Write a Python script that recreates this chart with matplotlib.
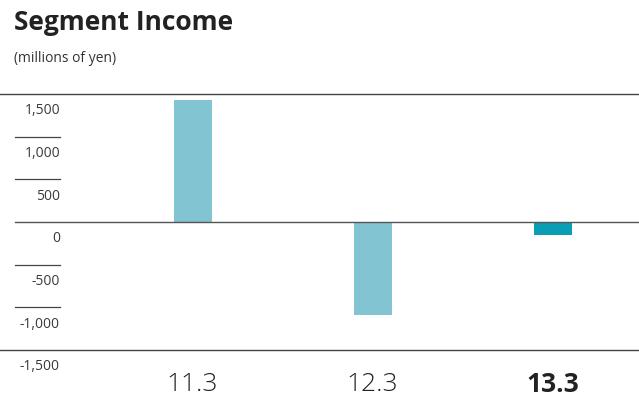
import matplotlib
matplotlib.use("Agg")
import matplotlib.pyplot as plt

plt.rcParams['font.family'] = ['Open Sans', 'DejaVu Sans']

# Data
categories = ["11.3", "12.3", "13.3"]
values = [1430, -1090, -150]
bar_colors = ["#82C4D2", "#82C4D2", "#0A9EB5"]
ytick_values = [1500, 1000, 500, 0, -500, -1000, -1500]
ytick_labels = ["1,500", "1,000", "500", "0", "-500", "-1,000", "-1,500"]

W, H = 639, 399
fig = plt.figure(figsize=(W / 100, H / 100), dpi=100)

top_px, bottom_px = 94, 350
ax = fig.add_axes([0, (H - bottom_px) / H, 1, (bottom_px - top_px) / H])
ax.set_ylim(-1500, 1500)

# horizontal placement: category centres 180 px apart, first at 192.5 px
unit = 180.25
first = 192.5
ax.set_xlim(-first / unit, (W - first) / unit)
ax.axis("off")

x = list(range(len(categories)))
ax.bar(x, values, width=38 / unit, color=bar_colors, zorder=2)

# frame lines
ax.axhline(1500, color="#444444", lw=1.0, zorder=3, clip_on=False)
ax.axhline(-1500, color="#444444", lw=1.0, zorder=3, clip_on=False)
ax.axhline(0, xmin=15 / W, xmax=1, color="#555555", lw=1.0, zorder=3)
for v in [1000, 500, -500, -1000]:
    ax.axhline(v, xmin=15 / W, xmax=60 / W, color="#444444", lw=0.9, zorder=3)

# y labels sit just under their lines
for v, lab in zip(ytick_values, ytick_labels):
    ax.annotate(lab, xy=(60 / W, v), xycoords=("axes fraction", "data"),
                xytext=(0, -12), textcoords="offset points",
                ha="right", va="center", fontsize=10, color="#3a3a3a")

# category labels
for i, c in enumerate(categories):
    last = i == len(categories) - 1
    ax.annotate(c, xy=(i, -1500), xycoords="data",
                xytext=(0, -24.5), textcoords="offset points",
                ha="center", va="center", fontsize=19, color="#222222",
                fontweight="bold" if last else "light")

fig.text(14 / W, 1 - 22 / H, "Segment Income", fontsize=19, fontweight="bold",
         color="#222222", ha="left", va="center")
fig.text(14 / W, 1 - 58 / H, "(millions of yen)", fontsize=10, color="#333333",
         ha="left", va="center")

fig.savefig("out.png", dpi=100)
